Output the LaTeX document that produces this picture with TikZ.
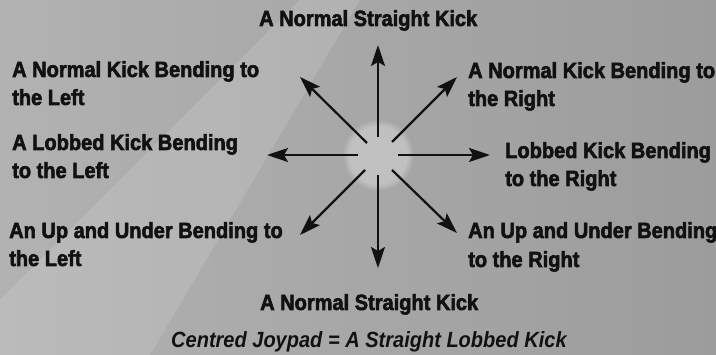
\documentclass[tikz,border=0pt]{standalone}
\usepackage{fontspec}
\setmainfont[FakeStretch=0.91, BoldFeatures={FakeBold=2.5}]{Liberation Sans}
\usetikzlibrary{arrows.meta,fadings}
\definecolor{txt}{HTML}{111111}
\definecolor{bgL}{HTML}{B2B2B2}
\definecolor{bgR}{HTML}{9C9C9C}
\begin{document}
\begin{tikzpicture}[x=1pt,y=-1pt,
  lbl/.style={font=\fontsize{22}{26}\selectfont\bfseries, text=txt, inner sep=0pt, anchor=base west},
  ilbl/.style={lbl, font=\fontsize{22}{26}\selectfont\bfseries\itshape},
  kick/.style={-{Stealth[length=21pt,width=14pt,inset=4pt]}, line width=2.2pt, draw=txt}]
\useasboundingbox (0,0) rectangle (716,355);
% background
\shade[left color=bgL, right color=bgR] (0,0) rectangle (716,355);
\fill[white, opacity=0.12] (300,0) -- (360,0) -- (150,355) -- (0,355) -- (0,300) -- cycle;
\fill[white, opacity=0.3, path fading=circle with fuzzy edge 20 percent] (378,155) circle (36);
% centre and arrow ends
\coordinate (c) at (378,155);
\coordinate (tU) at (378,137);  \coordinate (hU) at (378,45);
\coordinate (tD) at (378,175);  \coordinate (hD) at (378,268);
\coordinate (tL) at (358,155);  \coordinate (hL) at (267,155);
\coordinate (tR) at (398,155);  \coordinate (hR) at (490,155);
\coordinate (tUL) at (367,143); \coordinate (hUL) at (300,77);
\coordinate (tUR) at (392,142); \coordinate (hUR) at (457,77);
\coordinate (tDL) at (365,170); \coordinate (hDL) at (300,235);
\coordinate (tDR) at (392,170); \coordinate (hDR) at (457,233);
\draw[kick] (tU) -- (hU);
\draw[kick] (tD) -- (hD);
\draw[kick] (tL) -- (hL);
\draw[kick] (tR) -- (hR);
\draw[kick] (tUL) -- (hUL);
\draw[kick] (tUR) -- (hUR);
\draw[kick] (tDL) -- (hDL);
\draw[kick] (tDR) -- (hDR);
% labels
\node[lbl] (top) at (259,26) {A Normal Straight Kick};
\node[lbl] (l1a) at (12,77) {A Normal Kick Bending to};
\node[lbl] (l1b) at (12,105) {the Left};
\node[lbl] (l2a) at (12,150) {A Lobbed Kick Bending};
\node[lbl] (l2b) at (12,178) {to the Left};
\node[lbl] (l3a) at (9,238) {An Up and Under Bending to};
\node[lbl] (l3b) at (9,266) {the Left};
\node[lbl] (r1a) at (468,78) {A Normal Kick Bending to};
\node[lbl] (r1b) at (468,106) {the Right};
\node[lbl] (r2a) at (505,158) {Lobbed Kick Bending};
\node[lbl] (r2b) at (505,186) {to the Right};
\node[lbl] (r3a) at (468,238) {An Up and Under Bending};
\node[lbl] (r3b) at (468,267) {to the Right};
\node[lbl] (bot) at (260,310) {A Normal Straight Kick};
\node[ilbl] (cent) at (171,348) {Centred Joypad = A Straight Lobbed Kick};
\end{tikzpicture}
\end{document}
